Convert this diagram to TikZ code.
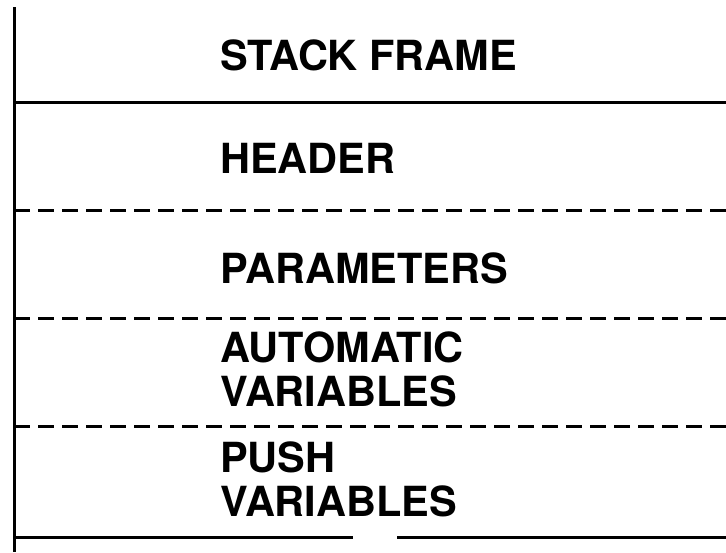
\documentclass[tikz,border=0pt]{standalone}
\usepackage{fontspec}
\setmainfont{TeX Gyre Heros}
\begin{document}
\begin{tikzpicture}[x=1pt,y=1pt,
  rule/.style={line width=3pt},
  divider/.style={line width=3pt, dash pattern=on 16pt off 8pt},
  label/.style={anchor=base west, inner sep=0pt, font=\fontsize{41.5}{44}\selectfont\bfseries}]
\useasboundingbox (0,0) rectangle (726,-552);
% left edge of the frame
\coordinate (lt) at (14,-7);
\coordinate (lb) at (14,-552);
\draw[rule] (lt) -- (lb);
% top rule under the title
\coordinate (t1) at (14,-102);
\coordinate (t2) at (726,-102);
\draw[rule] (t1) -- (t2);
% dashed section dividers
\coordinate (d1a) at (14,-210); \coordinate (d1b) at (726,-210);
\coordinate (d2a) at (14,-318); \coordinate (d2b) at (726,-318);
\coordinate (d3a) at (14,-426); \coordinate (d3b) at (726,-426);
\draw[divider] (d1a) -- (d1b);
\draw[divider] (d2a) -- (d2b);
\draw[divider] (d3a) -- (d3b);
% bottom rule with a gap
\coordinate (b1) at (14,-537); \coordinate (b2) at (353,-537);
\coordinate (b3) at (397,-537); \coordinate (b4) at (726,-537);
\draw[rule] (b1) -- (b2);
\draw[rule] (b3) -- (b4);
% section labels
\node[label] (title) at (220,-70) {STACK FRAME};
\node[label] (header) at (220,-173) {HEADER};
\node[label] (params) at (220,-283) {PARAMETERS};
\node[label] (auto1) at (220,-362) {AUTOMATIC};
\node[label] (auto2) at (220,-406) {VARIABLES};
\node[label] (push1) at (220,-472) {PUSH};
\node[label] (push2) at (220,-516) {VARIABLES};
\end{tikzpicture}
\end{document}
